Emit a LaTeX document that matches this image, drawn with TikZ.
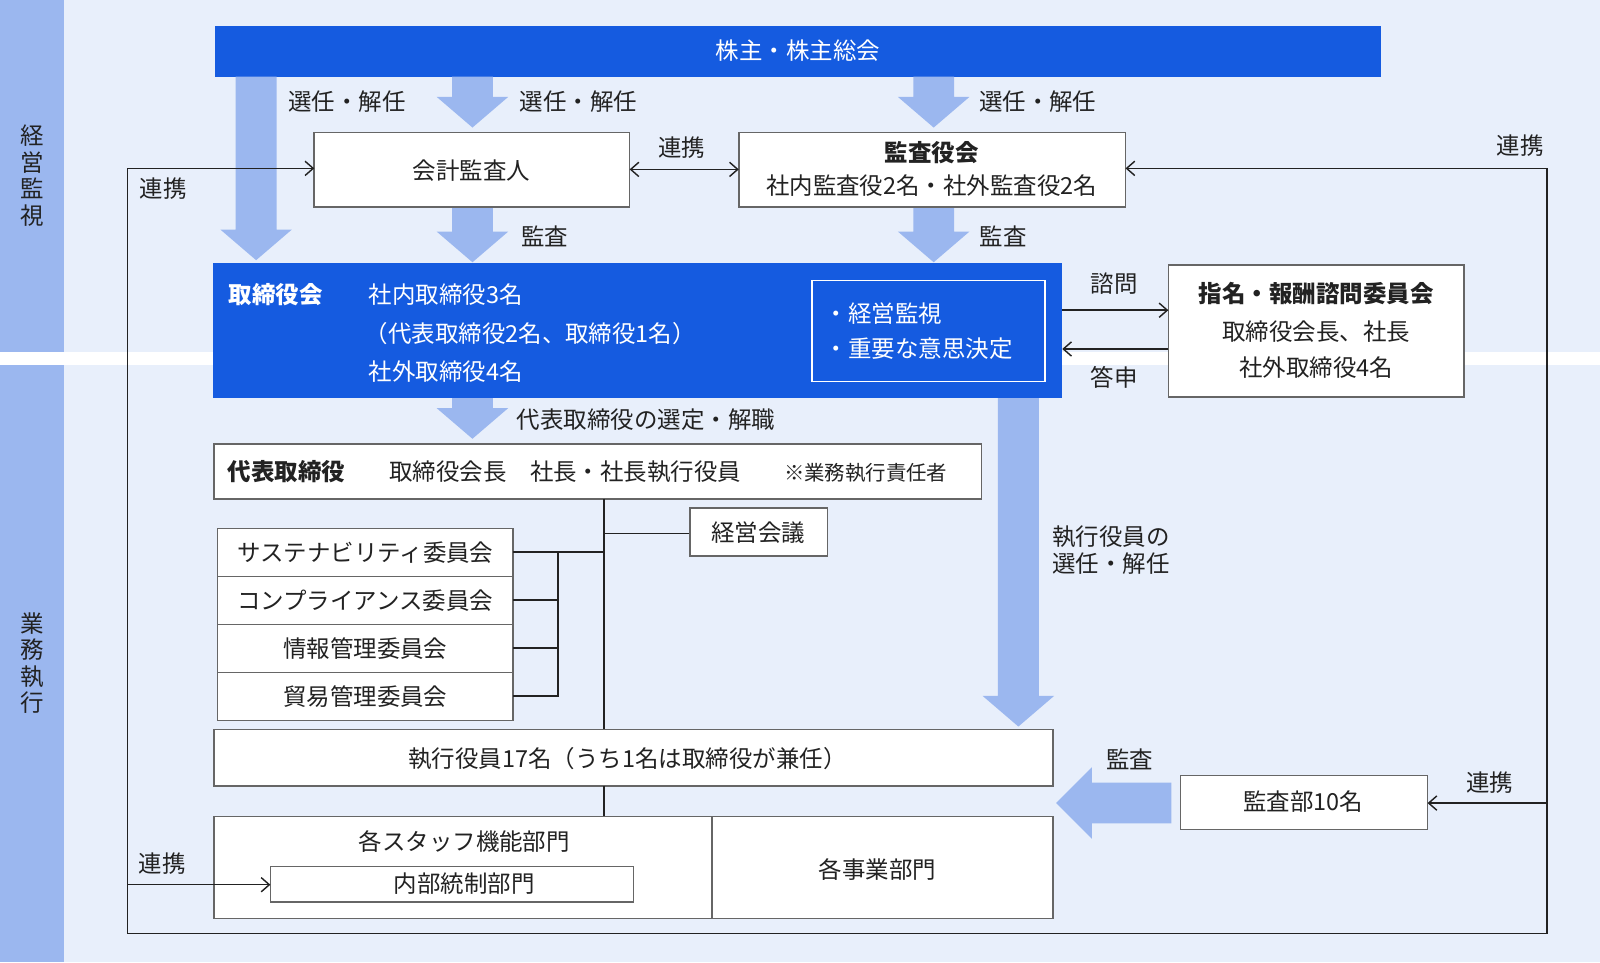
\documentclass[tikz,border=0pt]{standalone}
\usepackage{fontspec}
\setmainfont{Noto Sans CJK JP}
\usetikzlibrary{arrows.meta}
\definecolor{bg}{HTML}{E8EFFB}
\definecolor{band}{HTML}{9BB7EF}
\definecolor{dk}{HTML}{155BE0}
\definecolor{arr}{HTML}{9BB7EF}
\definecolor{tx}{HTML}{222222}
\newcommand{\varr}[3]{\fill[arr] (#1-20,#2) -- (#1+20,#2) -- (#1+20,#3-30) -- (#1+35,#3-30) -- (#1,#3) -- (#1-35,#3-30) -- (#1-20,#3-30) -- cycle;}
\begin{document}
\begin{tikzpicture}[x=0.5pt,y=-0.5pt,
  box/.style={draw=black!60,line width=0.8pt,fill=white},
  lab/.style={text=tx,font=\fontsize{11.5}{13}\selectfont,inner sep=0},
  wl/.style={text=white,font=\fontsize{11.5}{15}\selectfont,inner sep=0},
  ln/.style={draw=tx,line width=0.7pt},
  ar/.style={ln,-{Straight Barb[length=4pt,width=7pt]}}]
\useasboundingbox (0,0) rectangle (1568,943);
\fill[bg] (0,0) rectangle (1568,943);
\fill[band] (0,0) rectangle (63,345);
\fill[band] (0,358) rectangle (63,943);
\fill[white] (0,345) rectangle (1568,358);
\node[lab,align=center] (s1) at (32,172) {経\\営\\監\\視};
\node[lab,align=center] (s2) at (32,650) {業\\務\\執\\行};
% loop lines
\coordinate (l1) at (125,165); \coordinate (l2) at (125,915);
\coordinate (r1) at (1516,165); \coordinate (r2) at (1516,915);
\draw[ln] (l1) -- (l2) -- (r2) -- (r1);
% top
\fill[dk] (211,25) rectangle (1353,75);
\node[wl] (top) at (782,50) {株主・株主総会};
\varr{251}{75}{255}
\varr{463}{75}{125}
\varr{915}{75}{125}
\varr{463}{203}{257}
\varr{915}{203}{257}
\varr{463}{390}{430}
\varr{998}{390}{712}
\fill[arr] (1148,767) -- (1148,807) -- (1070,807) -- (1070,822) -- (1035,787) -- (1070,752) -- (1070,767) -- cycle;
\node[lab] at (340,100) {選任・解任};
\node[lab] at (567,100) {選任・解任};
\node[lab] at (1017,100) {選任・解任};
\node[lab] at (534,232) {監査};
\node[lab] at (983,232) {監査};
\node[lab] at (633,411) {代表取締役の選定・解職};
\node[lab,align=left,anchor=west] at (1031,539) {執行役員の\\選任・解任};
\node[lab] at (1107,744) {監査};
% boxes
\draw[box] (308,130) rectangle (617,203); \node[lab] (kaikei) at (462,167) {会計監査人};
\draw[box] (724,130) rectangle (1103,203);
\node[lab,font=\fontsize{11.5}{13}\selectfont\bfseries] (kansa) at (913,150) {監査役会};
\node[lab] at (913,182) {社内監査役2名・社外監査役2名};
\draw[ar,{Straight Barb[length=4pt,width=7pt]}-{Straight Barb[length=4pt,width=7pt]}] (617,166) -- (724,166);
\node[lab] at (668,145) {連携};
\fill[dk] (209,258) rectangle (1041,390);
\node[wl,font=\fontsize{11.5}{13}\selectfont\bfseries,anchor=west] (tori) at (224,289) {取締役会};
\node[wl,anchor=west] at (361,289) {社内取締役3名};
\node[wl,anchor=west] at (357,327) {（代表取締役2名、取締役1名）};
\node[wl,anchor=west] at (361,364) {社外取締役4名};
\draw[white,line width=0.8pt] (796,275) rectangle (1024,374);
\node[wl,anchor=west] at (808,307) {・経営監視};
\node[wl,anchor=west] at (808,342) {・重要な意思決定};
\draw[box] (1145,260) rectangle (1435,389);
\node[lab,font=\fontsize{11.5}{13}\selectfont\bfseries] (shimei) at (1290,288) {指名・報酬諮問委員会};
\node[lab] at (1290,325) {取締役会長、社長};
\node[lab] at (1290,360) {社外取締役4名};
\draw[ar] (1041,304) -- (1145,304); \node[lab] at (1092,278) {諮問};
\draw[ar] (1145,342) -- (1041,342); \node[lab] at (1092,370) {答申};
% executive
\draw[box] (210,435) rectangle (962,489);
\node[lab,font=\fontsize{11.5}{13}\selectfont\bfseries,anchor=west] (daihyo) at (223,462) {代表取締役};
\node[lab,anchor=west] at (381,462) {取締役会長\quad 社長・社長執行役員};
\node[lab,anchor=west,font=\fontsize{10}{12}\selectfont] at (768,463) {※業務執行責任者};
\draw[ln] (592,489) -- (592,715);
\draw[ln] (592,523) -- (676,523);
\draw[box] (676,498) rectangle (811,545); \node[lab] (keiei) at (743,522) {経営会議};
\foreach \y/\t in {518/サステナビリティ委員会,565/コンプライアンス委員会,612/情報管理委員会,659/貿易管理委員会}{
  \draw[box] (213,\y) rectangle (503,\y+47);
  \node[lab] at (358,\y+24) {\t};
  \draw[ln] (503,\y+23) -- (547,\y+23);
}
\draw[ln] (547,541) -- (547,683);
\draw[ln] (547,541) -- (592,541);
\draw[box] (210,715) rectangle (1032,770);
\node[lab] (shikko) at (615,743) {執行役員17名（うち1名は取締役が兼任）};
\draw[ln] (592,770) -- (592,800);
\draw[box] (210,800) rectangle (1032,900);
\draw[black!60,line width=0.8pt] (698,800) -- (698,900);
\node[lab] at (455,825) {各スタッフ機能部門};
\draw[box] (265,849) rectangle (621,884); \node[lab] (naibu) at (455,866) {内部統制部門};
\node[lab] at (860,852) {各事業部門};
\draw[box] (1157,760) rectangle (1399,813); \node[lab] (kansabu) at (1277,786) {監査部10名};
% links
\draw[ar] (l1) -- (308,165);
\draw[ar] (r1) -- (1103,165);
\draw[ar] (125,867) -- (265,867);
\draw[ar] (1516,787) -- (1399,787);
\node[lab] at (160,185) {連携};
\node[lab] at (1490,143) {連携};
\node[lab] at (159,846) {連携};
\node[lab] at (1460,767) {連携};
\end{tikzpicture}
\end{document}
